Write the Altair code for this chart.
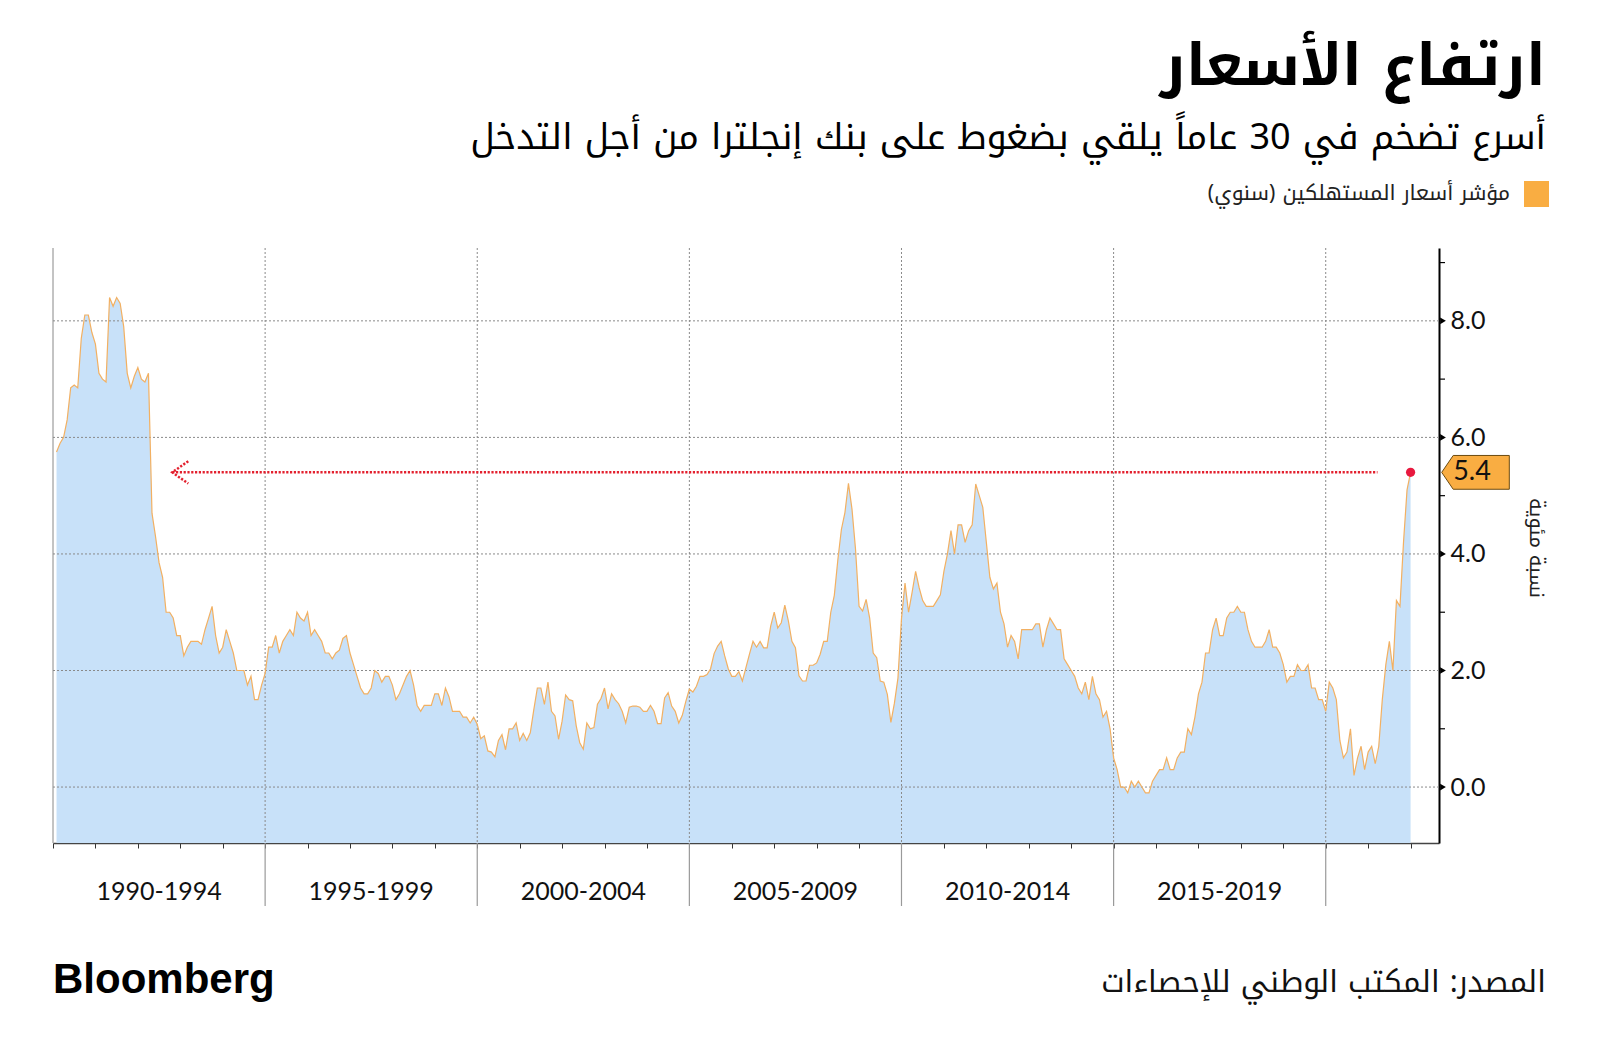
import altair as alt
import pandas as pd

# ---------------- data (UK CPI, annual rate, %) ----------------
cpi_1990 = [5.75, 5.9, 6.0, 6.3, 6.85, 6.9, 6.85, 7.7, 8.1, 8.1, 7.8, 7.6]
cpi_1991 = [7.1, 7.0, 6.95, 8.4, 8.25, 8.4, 8.3, 7.9, 7.1, 6.85, 7.05, 7.2]
cpi_1992 = [7.0, 6.95, 7.1, 4.7, 4.3, 3.85, 3.6, 3.0, 3.0, 2.9, 2.6, 2.6]
cpi_1993 = [2.25, 2.4, 2.5, 2.5, 2.5, 2.45, 2.7, 2.9, 3.1, 2.6, 2.3, 2.4]
cpi_1994 = [2.7, 2.5, 2.3, 2.0, 2.0, 2.0, 1.75, 1.9, 1.5, 1.5, 1.75, 1.95]
cpi_1995 = [2.4, 2.4, 2.6, 2.3, 2.5, 2.6, 2.7, 2.6, 3.0, 2.9, 2.85, 3.0]
cpi_1996 = [2.6, 2.7, 2.6, 2.5, 2.3, 2.3, 2.2, 2.3, 2.35, 2.55, 2.6, 2.3]
cpi_1997 = [2.1, 1.9, 1.7, 1.6, 1.6, 1.7, 2.0, 1.95, 1.8, 1.9, 1.9, 1.75]
cpi_1998 = [1.5, 1.6, 1.75, 1.9, 2.0, 1.75, 1.4, 1.3, 1.4, 1.4, 1.4, 1.6]
cpi_1999 = [1.6, 1.4, 1.7, 1.55, 1.3, 1.3, 1.3, 1.2, 1.2, 1.1, 1.2, 1.08]
cpi_2000 = [0.83, 0.88, 0.62, 0.6, 0.52, 0.8, 0.9, 0.64, 1.0, 1.0, 1.1, 0.8]
cpi_2001 = [0.92, 0.8, 0.93, 1.33, 1.7, 1.7, 1.42, 1.8, 1.3, 1.22, 0.82, 1.13]
cpi_2002 = [1.58, 1.5, 1.48, 1.05, 0.76, 0.65, 1.1, 1.0, 1.02, 1.42, 1.52, 1.7]
cpi_2003 = [1.34, 1.6, 1.5, 1.43, 1.3, 1.1, 1.37, 1.39, 1.39, 1.37, 1.3, 1.3]
cpi_2004 = [1.4, 1.3, 1.09, 1.09, 1.53, 1.62, 1.39, 1.3, 1.1, 1.23, 1.47, 1.68]
cpi_2005 = [1.63, 1.73, 1.9, 1.9, 1.93, 2.03, 2.29, 2.42, 2.5, 2.25, 2.03, 1.9]
cpi_2006 = [1.9, 1.98, 1.82, 2.05, 2.28, 2.5, 2.4, 2.5, 2.39, 2.39, 2.76, 3.0]
cpi_2007 = [2.73, 2.82, 3.12, 2.85, 2.5, 2.39, 1.91, 1.82, 1.82, 2.09, 2.09, 2.13]
cpi_2008 = [2.28, 2.5, 2.5, 3.0, 3.29, 3.9, 4.42, 4.71, 5.21, 4.77, 4.08, 3.1]
cpi_2009 = [3.02, 3.22, 2.9, 2.3, 2.22, 1.82, 1.8, 1.59, 1.11, 1.44, 1.87, 2.89]
cpi_2010 = [3.5, 3.0, 3.34, 3.7, 3.42, 3.2, 3.1, 3.1, 3.1, 3.2, 3.3, 3.7]
cpi_2011 = [4.0, 4.4, 4.0, 4.5, 4.5, 4.2, 4.4, 4.5, 5.2, 5.0, 4.8, 4.2]
cpi_2012 = [3.6, 3.4, 3.5, 3.0, 2.8, 2.4, 2.6, 2.5, 2.2, 2.7, 2.7, 2.7]
cpi_2013 = [2.7, 2.8, 2.8, 2.4, 2.7, 2.9, 2.8, 2.7, 2.7, 2.2, 2.1, 2.0]
cpi_2014 = [1.9, 1.7, 1.6, 1.8, 1.5, 1.9, 1.6, 1.5, 1.2, 1.3, 1.0, 0.5]
cpi_2015 = [0.3, 0.0, 0.0, -0.1, 0.1, 0.0, 0.1, 0.0, -0.1, -0.1, 0.1, 0.2]
cpi_2016 = [0.3, 0.3, 0.5, 0.3, 0.3, 0.5, 0.6, 0.6, 1.0, 0.9, 1.2, 1.6]
cpi_2017 = [1.8, 2.3, 2.3, 2.7, 2.9, 2.6, 2.6, 2.9, 3.0, 3.0, 3.1, 3.0]
cpi_2018 = [3.0, 2.7, 2.5, 2.4, 2.4, 2.4, 2.5, 2.7, 2.4, 2.4, 2.3, 2.1]
cpi_2019 = [1.8, 1.9, 1.9, 2.1, 2.0, 2.0, 2.1, 1.7, 1.7, 1.5, 1.5, 1.3]
cpi_2020 = [1.8, 1.7, 1.5, 0.8, 0.5, 0.6, 1.0, 0.2, 0.5, 0.7, 0.3, 0.6]
cpi_2021 = [0.7, 0.4, 0.7, 1.5, 2.1, 2.5, 2.0, 3.2, 3.1, 4.2, 5.1, 5.4]

first_year = 1990
yearly = [cpi_1990, cpi_1991, cpi_1992, cpi_1993, cpi_1994, cpi_1995, cpi_1996,
          cpi_1997, cpi_1998, cpi_1999, cpi_2000, cpi_2001, cpi_2002, cpi_2003,
          cpi_2004, cpi_2005, cpi_2006, cpi_2007, cpi_2008, cpi_2009, cpi_2010,
          cpi_2011, cpi_2012, cpi_2013, cpi_2014, cpi_2015, cpi_2016, cpi_2017,
          cpi_2018, cpi_2019, cpi_2020, cpi_2021]

band_labels = ["1990-1994", "1995-1999", "2000-2004", "2005-2009", "2010-2014", "2015-2019"]
band_centers = [1992.5, 1997.5, 2002.5, 2007.5, 2012.5, 2017.5]
band_edges = [1995, 2000, 2005, 2010, 2015, 2020]
year_ticks = list(range(1990, 2023))
y_major = [0, 2, 4, 6, 8]
y_minor = [1, 3, 5, 7, 9]

latest_t = 2022.0
latest_v = 5.4
arrow_from = 1992.81
arrow_to = 2021.22
arrow_head_t = 1993.0

X_DOMAIN = [1990.0, 2022.67]
Y_DOMAIN = [-0.96, 9.25]

title_txt = "ارتفاع الأسعار"
subtitle_txt = "أسرع تضخم في 30 عاماً يلقي بضغوط على بنك إنجلترا من أجل التدخل"
legend_txt = "مؤشر أسعار المستهلكين (سنوي)\u200f"
yaxis_txt = "نسبة مئوية"
source_txt = "المصدر: المكتب الوطني للإحصاءات"
brand_txt = "Bloomberg"

# ---------------- build table ----------------
rows = []
for i, vals in enumerate(yearly):
    for m, v in enumerate(vals):
        # plotted at month end
        rows.append({"t": first_year + i + (m + 1) / 12.0, "cpi": v})
df = pd.DataFrame(rows)

W, H = 1386, 595
AR = "Noto Kufi Arabic, Noto Sans Arabic, DejaVu Sans, sans-serif"
LAT = "Lato, Open Sans, sans-serif"

xs = alt.Scale(domain=X_DOMAIN, nice=False, zero=False)
ys = alt.Scale(domain=Y_DOMAIN, nice=False, zero=False)

X_AXIS = alt.Axis(values=year_ticks, labels=False, ticks=True, tickSize=5,
                  tickColor="#333", tickWidth=1, domainColor="#444",
                  domainWidth=1.5, grid=False, title=None)
Y_AXIS = alt.Axis(orient="right", values=y_major, format=".1f",
                  labelFont=LAT, labelFontSize=25, labelColor="#111",
                  labelPadding=11, ticks=False, domainColor="#000",
                  domainWidth=2, grid=False, title=None)


def X(field):
    return alt.X(field, type="quantitative", scale=xs, axis=X_AXIS, title=None)


def Y(field):
    return alt.Y(field, type="quantitative", scale=ys, axis=Y_AXIS, title=None)


area = alt.Chart(df).mark_area(color="#C8E1F9", opacity=1, clip=True).encode(
    x=X("t"), y=Y("cpi"), y2=alt.datum(Y_DOMAIN[0]),
)

ygrid = alt.Chart(pd.DataFrame({"v": y_major})).mark_rule(
    color="#8a8a8a", strokeWidth=1, strokeDash=[2, 2]).encode(y=Y("v"))

xgrid = alt.Chart(pd.DataFrame({"t": band_edges})).mark_rule(
    color="#8a8a8a", strokeWidth=1, strokeDash=[2, 2]).encode(x=X("t"))

xext = alt.Chart(pd.DataFrame({"t": band_edges})).mark_rule(
    color="#9a9a9a", strokeWidth=1.2).encode(
    x=X("t"), y=alt.value(H), y2=alt.value(H + 63))

left_border = alt.Chart(pd.DataFrame({"a": [0]})).mark_rule(
    color="#888", strokeWidth=1).encode(x=alt.value(0), y=alt.value(0), y2=alt.value(H))

line = alt.Chart(df).mark_line(color="#F2B062", strokeWidth=1.2, clip=True).encode(
    x=X("t"), y=Y("cpi"))

band_text = alt.Chart(pd.DataFrame({"t": band_centers, "s": band_labels})).mark_text(
    font=LAT, fontSize=25, color="#111", baseline="middle", align="center").encode(
    x=X("t"), y=alt.value(644), text="s:N")

tri = alt.Chart(pd.DataFrame({"v": y_major})).mark_point(
    shape="triangle-right", filled=True, color="#000", size=45, opacity=1).encode(
    y=Y("v"), x=alt.value(W + 4))

minor = alt.Chart(pd.DataFrame({"v": y_minor})).mark_rule(
    color="#000", strokeWidth=1.2).encode(
    y=Y("v"), x=alt.value(W), x2=alt.value(W + 6))

latest_df = pd.DataFrame({"t": [latest_t], "v": [latest_v], "s": [f"{latest_v:.1f}"]})

arrow_line = alt.Chart(pd.DataFrame({"a": [arrow_from], "b": [arrow_to], "v": [latest_v]})).mark_rule(
    color="#E3202E", strokeWidth=2.5, strokeDash=[2.2, 1.6]).encode(
    x=X("a"), x2="b:Q", y=Y("v"))

arrow_head = alt.Chart(pd.DataFrame({"t": [arrow_head_t], "v": [latest_v]})).mark_point(
    shape="M1,-1.4L-1,0L1,1.4", filled=False, stroke="#E3202E", strokeWidth=2.5,
    strokeDash=[2.2, 1.6], size=256, opacity=1).encode(x=X("t"), y=Y("v"))

dot = alt.Chart(latest_df).mark_point(filled=True, color="#E8193F", size=85, opacity=1).encode(
    x=X("t"), y=Y("v"))

callout_box = alt.Chart(latest_df).mark_point(
    shape="M-1,0L-0.66,-0.5L1,-0.5L1,0.5L-0.66,0.5Z", filled=True, fill="#F9AD42",
    stroke="#6b4a10", strokeWidth=1, size=4570, opacity=1).encode(
    x=alt.value(W + 36.5), y=Y("v"))

callout_text = alt.Chart(latest_df).mark_text(
    font=LAT, fontSize=27, color="#111", baseline="middle", align="center").encode(
    x=alt.value(W + 33), y=Y("v"), text="s:N")


def txt(s, x, y, size, weight="normal", font=AR, align="right", baseline="alphabetic",
        color="#000", angle=0):
    return alt.Chart(pd.DataFrame({"s": [s]})).mark_text(
        font=font, fontSize=size, fontWeight=weight, align=align, baseline=baseline,
        color=color, angle=angle).encode(x=alt.value(x), y=alt.value(y), text="s:N")


title = txt(title_txt, 1493, -163, 58, weight="bold")
subtitle = txt(subtitle_txt, 1493, -99, 36)
legend_sw = alt.Chart(pd.DataFrame({"a": [0]})).mark_rect(color="#F9AD42").encode(
    x=alt.value(1471), x2=alt.value(1496), y=alt.value(-67), y2=alt.value(-41))
legend_text = txt(legend_txt, 1457, -54, 21, baseline="middle", color="#222")
yaxis_title = txt(yaxis_txt, 1483, 300, 20, align="center", baseline="middle",
                  color="#222", angle=90)
brand = txt(brand_txt, 0, 745, 42, weight="bold", font="Liberation Sans, Arial, sans-serif",
            align="left")
source = txt(source_txt, 1493, 735, 30, baseline="middle", color="#111")

chart = alt.layer(
    area, ygrid, xgrid, xext, left_border, line, band_text, tri, minor,
    arrow_line, arrow_head, dot, callout_box, callout_text,
    title, subtitle, legend_sw, legend_text, yaxis_title, brand, source,
).properties(
    width=W, height=H,
    padding={"left": 45, "top": 240, "right": 153, "bottom": 207},
    autosize=alt.AutoSizeParams(type="none"),
    background="#ffffff",
).configure_view(stroke=None)

chart.save("out.html", embed_options={"renderer": "svg", "actions": False})
